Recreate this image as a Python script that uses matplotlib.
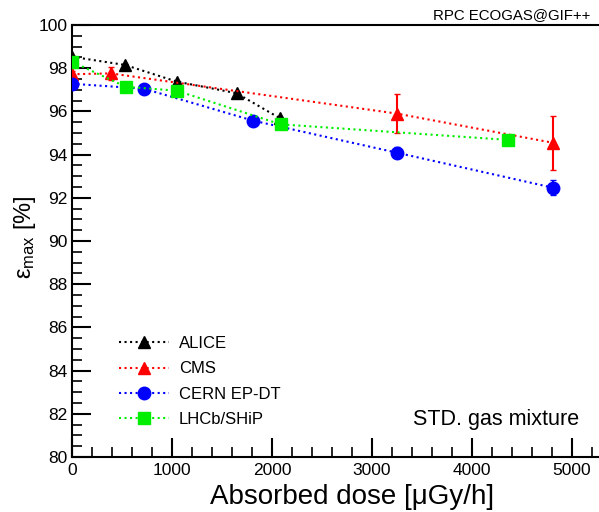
import matplotlib
matplotlib.use("Agg")
import matplotlib.pyplot as plt
from matplotlib.ticker import MultipleLocator
from matplotlib.lines import Line2D

plt.rcParams['font.family'] = ['Liberation Sans', 'DejaVu Sans']
plt.rcParams['mathtext.fontset'] = 'custom'
plt.rcParams['mathtext.rm'] = 'Liberation Sans'
plt.rcParams['mathtext.it'] = 'Liberation Sans'

# data
alice_x = [0, 530, 1047, 1647, 2080]
alice_y = [98.53, 98.15, 97.38, 96.84, 95.68]
alice_err = [0.05, 0.05, 0.05, 0.05, 0.05]

cms_x = [0, 387, 3247, 4807]
cms_y = [97.72, 97.76, 95.9, 94.55]
cms_err = [0.15, 0.3, 0.9, 1.25]

cern_x = [0, 720, 1813, 3247, 4807]
cern_y = [97.28, 97.05, 95.57, 94.09, 92.47]
cern_err = [0.15, 0.15, 0.15, 0.25, 0.35]

lhcb_x = [0, 537, 1047, 2087, 4363]
lhcb_y = [98.3, 97.14, 96.96, 95.40, 94.68]
lhcb_err = [0.1, 0.1, 0.1, 0.1, 0.2]

series = [
    ("ALICE", alice_x, alice_y, alice_err, "black", "^"),
    ("CMS", cms_x, cms_y, cms_err, "#ff0000", "^"),
    ("CERN EP-DT", cern_x, cern_y, cern_err, "#0000ff", "o"),
    ("LHCb/SHiP", lhcb_x, lhcb_y, lhcb_err, "#00ee00", "s"),
]

fig = plt.figure(figsize=(5.99, 5.12), dpi=100)
ax = fig.add_axes([72/599, 1-457/512, 1-72/599, (457-25)/512])

handles = []
for name, x, y, e, c, m in series:
    ms = 9 if m != 's' else 8.5
    ax.errorbar(x, y, yerr=e, color=c, marker=m, markersize=ms,
                linestyle=':', linewidth=1.5, elinewidth=1.5, capsize=2, zorder=3)
    handles.append(Line2D([], [], color=c, marker=m, markersize=ms, linestyle=':',
                          linewidth=1.5, label=name))

ax.set_xlim(0, 5270)
ax.set_ylim(80, 100)
ax.xaxis.set_major_locator(MultipleLocator(1000))
ax.xaxis.set_minor_locator(MultipleLocator(200))
ax.yaxis.set_major_locator(MultipleLocator(2))
ax.yaxis.set_minor_locator(MultipleLocator(0.5))
ax.tick_params(axis='both', which='major', direction='in', length=14, width=1.5, labelsize=12.5)
ax.tick_params(axis='both', which='minor', direction='in', length=7, width=1.2)
ax.tick_params(axis='x', pad=4)
ax.spines['right'].set_visible(False)
for s in ['left', 'bottom', 'top']:
    ax.spines[s].set_linewidth(1.5)

fig.text(352/599, 1-497/512, 'Absorbed dose [\u03bcGy/h]', fontsize=20, ha='center', va='center')
fig.text(25/599, 1-237/512, r'$\mathregular{\varepsilon_{max}}$ [%]', fontsize=17, rotation=90,
         ha='center', va='center')

fig.text(590/599, 1-15/512, 'RPC ECOGAS@GIF++', fontsize=10.8, ha='right', va='center')
fig.text(579/599, 1-420/512, 'STD. gas mixture', fontsize=15.5, ha='right', va='center')

leg = ax.legend(handles=handles, loc='upper left', bbox_to_anchor=(104/599, 1-321/512),
                bbox_transform=fig.transFigure,
                frameon=False, fontsize=12, handlelength=3.0, handletextpad=0.6,
                labelspacing=0.62)

fig.savefig('out.png', dpi=100)
